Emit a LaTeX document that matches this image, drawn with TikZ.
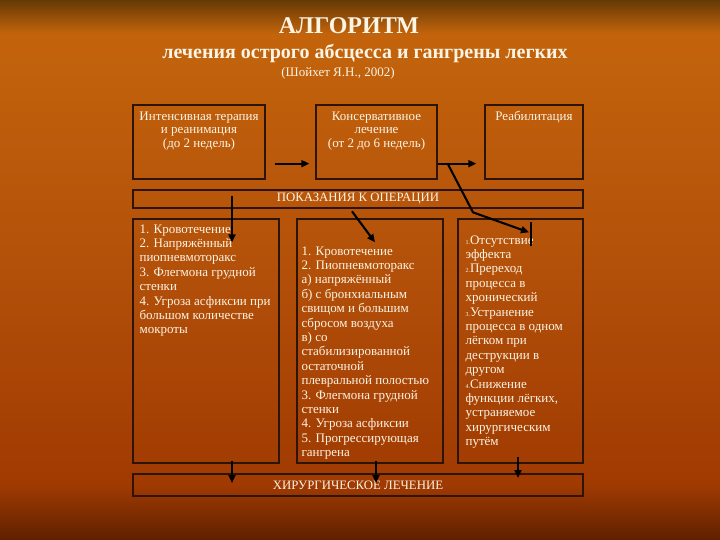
\documentclass[tikz,border=0pt]{standalone}
\usepackage{fontspec}
\setmainfont{Liberation Serif}
\usetikzlibrary{arrows.meta,positioning}

\definecolor{creme}{RGB}{252,244,228}
\definecolor{rahmen}{RGB}{45,20,5}
\definecolor{hgoben}{RGB}{100,58,5}
\definecolor{hghell}{RGB}{195,100,12}
\definecolor{hgmitte}{RGB}{180,82,10}
\definecolor{hgtief}{RGB}{160,58,2}
\definecolor{hgunten}{RGB}{95,32,0}

\pgfdeclareverticalshading{hintergrund}{100bp}{color(0bp)=(hgunten); color(25bp)=(hgunten); color(30.1bp)=(hgtief); color(51.9bp)=(hgmitte); color(71.9bp)=(hghell); color(75bp)=(hgoben); color(100bp)=(hgoben)}

\newcommand\klnr[1]{{\fontsize{6}{6}\selectfont #1}}

\tikzset{
  kasten/.style={draw=rahmen, line width=1.3pt, rectangle, inner sep=0pt},
  schrift/.style={text=creme, inner sep=0pt},
  kopf/.style={schrift, align=center, font=\fontsize{13}{13.5}\selectfont},
  balken/.style={schrift, font=\fontsize{12.8}{13}\selectfont},
  liste/.style={schrift, align=left, font=\fontsize{13}{14.4}\selectfont},
  pfeil/.style={draw=black, line width=2.1pt, -{Triangle[length=8pt,width=7pt]}},
}

\begin{document}
\begin{tikzpicture}[x=1pt,y=-1pt]
    % Hintergrund
    \shade[shading=hintergrund] (0,0) rectangle (720,540);
    \useasboundingbox (0,0) rectangle (720,540);

    % Überschrift
    \node[schrift, font=\bfseries\fontsize{24}{24}\selectfont] (titel) at (349,26) {АЛГОРИТМ};
    \node[schrift, font=\bfseries\fontsize{20}{20}\selectfont] (untertitel) at (365,53) {лечения острого абсцесса и гангрены легких};
    \node[schrift, font=\fontsize{13}{13}\selectfont] (quelle) at (338,73) {(Шойхет Я.Н., 2002)};

    % Obere Kästen
    \node[kasten, minimum width=132pt, minimum height=74pt] (t1) at (199,142) {};
    \node[kasten, minimum width=121pt, minimum height=74pt] (t2) at (376.5,142) {};
    \node[kasten, minimum width=98pt, minimum height=74pt] (t3) at (534,142) {};
    \node[kopf, below=7pt of t1.north] (tx1) {Интенсивная терапия\\и реанимация\\(до 2 недель)};
    \node[kopf, below=7pt of t2.north] (tx2) {Консервативное\\лечение\\(от 2 до 6 недель)};
    \node[kopf, below=7pt of t3.north] (tx3) {Реабилитация};

    % Querbalken
    \node[kasten, minimum width=450pt, minimum height=18pt] (pok) at (358,199) {};
    \node[balken] (pokt) at (pok.center) {ПОКАЗАНИЯ К ОПЕРАЦИИ};
    \node[kasten, minimum width=450pt, minimum height=22pt] (chir) at (358,485) {};
    \node[balken] (chirt) at (chir.center) {ХИРУРГИЧЕСКОЕ ЛЕЧЕНИЕ};

    % Listen
    \node[kasten, minimum width=146pt, minimum height=244pt] (la) at (206,341) {};
    \node[kasten, minimum width=146pt, minimum height=244pt] (lb) at (370,341) {};
    \node[kasten, minimum width=125pt, minimum height=244pt] (lc) at (520.5,341) {};

    \node[liste, anchor=north west] (lta) at ([xshift=7pt,yshift=-6pt]la.north west)
        {1. Кровотечение\\2. Напряжённый\\пиопневмоторакс\\3. Флегмона грудной\\стенки\\4. Угроза асфиксии при\\большом количестве\\мокроты};
    \node[liste, anchor=north west] (ltb) at ([xshift=5pt,yshift=-28pt]lb.north west)
        {1. Кровотечение\\2. Пиопневмоторакс\\а) напряжённый\\б) с бронхиальным\\свищом и большим\\сбросом воздуха\\в) со\\стабилизированной\\остаточной\\плевральной полостью\\3. Флегмона грудной\\стенки\\4. Угроза асфиксии\\5. Прогрессирующая\\гангрена};
    \node[liste, anchor=north west] (ltc) at ([xshift=8pt,yshift=-17pt]lc.north west)
        {\klnr{1.}Отсутствие\\эффекта\\\klnr{2.}Пререход\\процесса в\\хронический\\\klnr{3.}Устранение\\процесса в одном\\лёгком при\\деструкции в\\другом\\\klnr{4.}Снижение\\функции лёгких,\\устраняемое\\хирургическим\\путём};

    % Pfeile
    \draw[pfeil] ([xshift=9pt,yshift=16pt]t1.south east) -- ([xshift=-6pt,yshift=16pt]t2.south west);
    \draw[pfeil] ([yshift=16pt]t2.south east) -- ([xshift=-8pt,yshift=16pt]t3.south west);
    \draw[pfeil] ([xshift=-126pt,yshift=3pt]pok.center) -- ([xshift=26pt,yshift=-24pt]la.north);
    \draw[pfeil] ([xshift=-18pt,yshift=7pt]lb.north) -- ([xshift=5pt,yshift=-24pt]lb.north);
    \draw[pfeil] ([xshift=10pt,yshift=16pt]t2.south east) -- ([xshift=-47.5pt,yshift=6pt]lc.north)
        -- ([xshift=8.5pt,yshift=-14pt]lc.north);
    \draw[black, line width=2.1pt] ([xshift=10.5pt,yshift=-4pt]lc.north) -- ([xshift=10.5pt,yshift=-28pt]lc.north);

    \foreach \k/\dx/\oben/\unten in {la/26/3/2, lb/6/3/2, lc/-2.5/7/7} {
        \draw[pfeil] ([xshift=\dx pt,yshift=\oben pt]\k.south) -- ([xshift=\dx pt,yshift=\unten pt]\k.south |- chir.center);
    }
\end{tikzpicture}
\end{document}
